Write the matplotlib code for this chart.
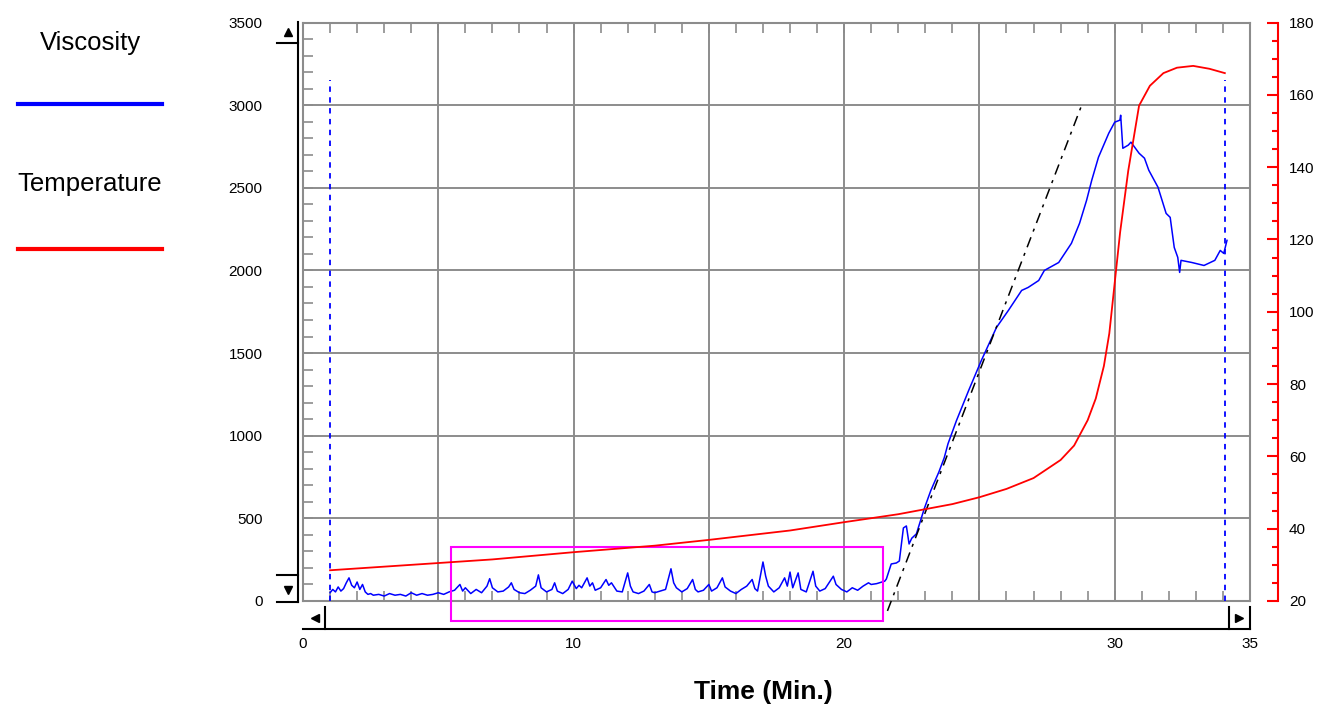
import matplotlib
matplotlib.use("Agg")
import matplotlib.pyplot as plt
from matplotlib.lines import Line2D
from matplotlib.patches import Rectangle

plt.rcParams['font.family'] = ['Liberation Sans', 'DejaVu Sans']

# Viscosity trace (minutes, cP)
visc_t = [1.0, 1.1, 1.2, 1.3, 1.4, 1.5, 1.6, 1.7, 1.8, 1.9, 2.0, 2.1, 2.2, 2.3, 2.4, 2.5,
          2.6, 2.8, 3.0, 3.2, 3.4, 3.6, 3.8, 4.0, 4.2, 4.4, 4.6, 4.8, 5.0, 5.2, 5.4,
          5.6, 5.8, 5.9, 6.0, 6.2, 6.4, 6.6, 6.8, 6.9, 7.0, 7.2, 7.4, 7.6, 7.7, 7.8,
          8.0, 8.2, 8.4, 8.6, 8.7, 8.8, 9.0, 9.2, 9.3, 9.4, 9.6, 9.8, 9.95, 10.1, 10.2,
          10.3, 10.5, 10.6, 10.7, 10.8, 11.0, 11.2, 11.3, 11.4, 11.6, 11.8, 12.0, 12.1,
          12.2, 12.4, 12.6, 12.8, 12.9, 13.0, 13.2, 13.4, 13.6, 13.7, 13.8, 14.0, 14.2,
          14.4, 14.5, 14.6, 14.8, 15.0, 15.1, 15.3, 15.5, 15.6, 15.8, 16.0, 16.2, 16.4,
          16.6, 16.7, 16.8, 17.0, 17.1, 17.2, 17.4, 17.6, 17.8, 17.9, 18.0, 18.1, 18.3,
          18.4, 18.6, 18.85, 18.95, 19.1, 19.3, 19.6, 19.7, 19.9, 20.1, 20.3, 20.5, 20.7,
          20.9, 21.0, 21.2, 21.4, 21.5,
          21.56, 21.74, 21.93, 22.04, 22.19, 22.3, 22.4, 22.5, 22.67, 22.96, 23.2, 23.5,
          23.7, 23.84, 24.15, 24.6, 25.07, 25.44, 25.63, 26.07, 26.56, 26.8, 27.19, 27.4,
          27.93, 28.4, 28.7, 28.96, 29.15, 29.4, 29.78, 30.0, 30.19, 30.22, 30.3, 30.5,
          30.6, 30.9, 31.1, 31.26, 31.6, 31.9, 32.05, 32.2, 32.33, 32.4, 32.45, 32.85,
          33.3, 33.7, 33.9, 34.03, 34.15]
visc_v = [50, 70, 55, 85, 60, 75, 110, 140, 95, 80, 115, 70, 100, 55, 40, 45,
          35, 40, 30, 45, 35, 40, 30, 50, 35, 45, 35, 40, 50, 40, 55,
          65, 100, 60, 80, 45, 70, 50, 90, 135, 80, 55, 60, 85, 110, 70,
          50, 45, 65, 90, 158, 80, 55, 70, 110, 60, 45, 70, 120, 75, 95,
          80, 140, 90, 110, 65, 80, 130, 95, 110, 60, 55, 170, 90,
          55, 45, 60, 100, 55, 50, 60, 70, 195, 110, 80, 55, 75,
          130, 70, 55, 65, 100, 60, 80, 140, 85, 60, 45, 70, 90,
          130, 75, 60, 236, 150, 90, 55, 80, 140, 90, 175, 80, 170,
          70, 55, 180, 90, 60, 75, 150, 100, 70, 55, 80, 65, 90,
          110, 100, 105, 115, 120,
          133, 224, 230, 242, 442, 454, 345, 380, 406, 558, 667, 780,
          867, 952, 1091, 1273, 1455, 1588, 1655, 1758, 1879, 1897, 1939, 2000,
          2048, 2164, 2285, 2424, 2545, 2685, 2830, 2897, 2909, 2939, 2739, 2758,
          2776, 2709, 2679, 2606, 2503, 2345, 2321, 2139, 2079, 1988, 2061, 2048,
          2030, 2061, 2121, 2103, 2182]

# Temperature trace (minutes, deg)
temp_t = [1.0, 3.0, 5.0, 7.0, 10.0, 13.0, 15.0, 18.0, 20.0, 22.0, 24.0, 25.0, 26.0,
          27.0, 28.0, 28.5, 29.0, 29.3, 29.6, 29.8, 30.0, 30.2, 30.5, 30.9, 31.3,
          31.8, 32.3, 32.9, 33.5, 34.07]
temp_v = [28.5, 29.5, 30.5, 31.5, 33.5, 35.3, 36.9, 39.5, 41.8, 44.0, 46.8, 48.7, 51.0,
          54.0, 59.0, 63.0, 70.0, 76.0, 85.0, 94.0, 108.0, 122.0, 139.0, 157.0, 162.5,
          166.0, 167.5, 168.0, 167.2, 166.0]

# cursors, tangent line and highlighted region
cursor_t = [1.0, 34.07]
cursor_top = 3150
tangent_t = [21.6, 28.78]
tangent_v = [-60, 3000]
box_t = [5.48, 21.44]
box_v = [-121, 327]

x_ticks = [0, 5, 10, 15, 20, 25, 30, 35]
x_labels = ['0', '', '10', '', '20', '', '30', '35']

W, H = 1323, 707
fig = plt.figure(figsize=(W / 100, H / 100), dpi=100)
ax = fig.add_axes([303 / W, 1 - 601 / H, 947 / W, 578.5 / H])
grid_col = '#8c8c8c'

ax.set_xlim(0, 35)
ax.set_ylim(0, 3500)
ax.set_xticks(x_ticks)
ax.set_xticklabels(x_labels)
ax.set_xticks(range(0, 36), minor=True)
ax.set_yticks(range(0, 3501, 500))
ax.set_yticks(range(0, 3501, 100), minor=True)
ax.grid(True, which='major', color=grid_col, lw=1.4)
ax.tick_params(which='both', direction='in', length=7, width=1.2, color=grid_col,
               top=True, right=True, labelsize=11)
ax.tick_params(axis='y', pad=29)
ax.tick_params(axis='x', pad=26)
for s in ax.spines.values():
    s.set_color(grid_col)
    s.set_linewidth(1.5)

ax.plot(visc_t, visc_v, color='#0000ff', lw=1.1, zorder=4)
ax.vlines(cursor_t, 0, cursor_top, colors='#0000ff', linestyles=(0, (3, 3)), lw=1.3, zorder=4)
ax.plot(tangent_t, tangent_v, color='black', lw=1.1, dashes=(7, 4, 2, 4), clip_on=False, zorder=5)
ax.add_patch(Rectangle((box_t[0], box_v[0]), box_t[1] - box_t[0], box_v[1] - box_v[0],
                       fill=False, edgecolor='#ff00ff', lw=1.5, clip_on=False, zorder=6))

ax.set_xlabel('Time (Min.)', fontsize=19, fontweight='bold')
ax.xaxis.set_label_coords(0.486, -0.137)

ax2 = ax.twinx()
ax2.set_ylim(20, 180)
ax2.set_yticks(range(20, 181, 20))
ax2.set_yticks(range(20, 181, 5), minor=True)
for k in ['left', 'top', 'bottom']:
    ax2.spines[k].set_visible(False)
ax2.spines['right'].set_position(('outward', 20))
ax2.spines['right'].set_color('#ff0000')
ax2.spines['right'].set_linewidth(1.5)
ax2.tick_params(which='major', direction='in', length=8, width=1.5, color='#ff0000',
                labelsize=11, pad=8)
ax2.tick_params(which='minor', direction='in', length=4, width=1.5, color='#ff0000')
ax2.plot(temp_t, temp_v, color='#ff0000', lw=1.3, zorder=3)


def px(x, y):
    return x / W, 1 - y / H


def seg(x0, y0, x1, y1):
    a, b = px(x0, y0)
    c, d = px(x1, y1)
    fig.add_artist(Line2D([a, c], [b, d], color='black', lw=1.5))


def tri(x, y, m):
    a, b = px(x, y)
    fig.add_artist(Line2D([a], [b], marker=m, color='black', markersize=6, lw=0))


# scroll bars
seg(298, 22, 298, 602)
seg(277, 43, 298, 43)
seg(277, 575, 298, 575)
seg(277, 602, 298, 602)
tri(288, 32, '^')
tri(288, 590, 'v')
seg(303, 629, 1250, 629)
seg(325, 607, 325, 629)
seg(1229, 607, 1229, 629)
seg(1250, 607, 1250, 629)
tri(315, 618, '<')
tri(1239, 618, '>')

# legend on the left
fig.text(90 / W, 1 - 43 / H, 'Viscosity', fontsize=18.5, ha='center', va='center')
fig.add_artist(Line2D([18 / W, 162 / W], [1 - 104 / H] * 2, color='#0000ff', lw=3))
fig.text(90 / W, 1 - 184 / H, 'Temperature', fontsize=18.5, ha='center', va='center')
fig.add_artist(Line2D([18 / W, 162 / W], [1 - 249 / H] * 2, color='#ff0000', lw=3))

fig.savefig('out.png', dpi=100)
